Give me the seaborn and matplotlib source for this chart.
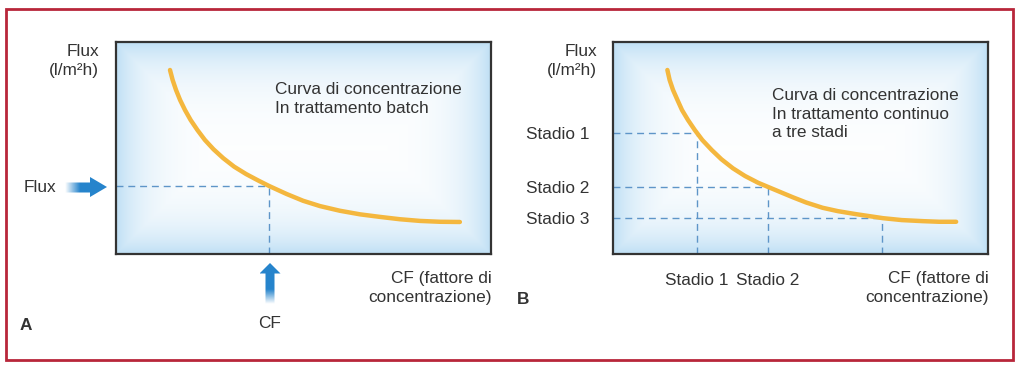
import seaborn as sns
import matplotlib.pyplot as plt
import pandas as pd
import numpy as np
from matplotlib.patches import Polygon, Rectangle

# curve (CF on x, flux on y, both 0-100 axis units)
cf_a = [14.4, 15.1, 16.0, 17.1, 18.4, 19.9, 21.7, 23.7, 26.0, 28.6, 31.5, 34.7, 38.0, 40.8,
        45.5, 49.9, 54.4, 59.7, 65.1, 70.4, 75.7, 81.1, 86.4, 91.7]
flux_a = [86.8, 82.1, 77.4, 72.6, 67.9, 63.2, 58.5, 53.8, 49.4, 45.2, 41.2, 37.7, 34.6, 32.1,
          28.3, 25.1, 22.6, 20.4, 18.7, 17.5, 16.4, 15.6, 15.2, 15.1]
cf_b = [14.5, 15.1, 16.0, 17.2, 18.4, 20.0, 21.8, 23.8, 26.3, 28.9, 32.0, 35.2, 38.7, 41.8,
        47.9, 51.5, 55.9, 60.0, 64.8, 72.0, 77.0, 82.6, 87.0, 91.5]
flux_b = [86.8, 82.1, 77.4, 72.6, 67.9, 63.2, 58.5, 53.8, 49.1, 44.7, 40.4, 36.8, 33.6, 31.3,
          26.8, 24.3, 21.8, 20.2, 18.8, 16.9, 16.0, 15.5, 15.2, 15.2]

# operating point, batch
punto_cf = 40.8
punto_flux = 32.1

# three stages, continuous
stadi = ["Stadio 1", "Stadio 2", "Stadio 3"]
stadi_cf = [22.3, 41.2, 71.7]
stadi_flux = [56.9, 31.8, 16.8]

W, H = 1024, 369
sns.set_theme(style="white")
plt.rcParams['font.family'] = ['Liberation Sans', 'DejaVu Sans']

TXT = "#333333"
CURVA = "#F4B73E"
TRATT = "#5E95C8"
BLU = np.array([38, 132, 204]) / 255
FS = 12.4
DASH = (0, (5, 3.5))

fig = plt.figure(figsize=(W / 100, H / 100), dpi=100)
fig.patch.set_facecolor("white")

# overlay in pixel coordinates for frame and arrows
ov = fig.add_axes([0, 0, 1, 1])
ov.set_xlim(0, W)
ov.set_ylim(H, 0)
ov.axis("off")
ov.add_patch(Rectangle((5.5, 8.5), 1007, 351, fill=False, ec="#B8263A", lw=2))


def ax_at(x0, y0, x1, y1):
    return fig.add_axes([x0 / W, 1 - y1 / H, (x1 - x0) / W, (y1 - y0) / H])


def sfondo(ax):
    nx, ny = 300, 170
    xx, yy = np.meshgrid(np.linspace(0, 1, nx), np.linspace(0, 1, ny))
    d = np.minimum.reduce([xx * 375, (1 - xx) * 375, yy * 212, (1 - yy) * 212])
    t = np.exp(-d / 30.0)
    edge = np.array([192, 224, 245]) / 255
    img = 1 - t[..., None] * (1 - edge)
    ax.imshow(img, extent=[0, 100, 0, 100], aspect="auto", zorder=0, interpolation="bilinear")


def freccia(pts, direzione):
    poly = Polygon(pts, closed=True, fc="none", ec="none")
    ov.add_patch(poly)
    xs = [p[0] for p in pts]
    ys = [p[1] for p in pts]
    n = 100
    a = np.clip(np.linspace(0, 1, n) * 2.8, 0, 1)
    ext = [min(xs), max(xs), max(ys), min(ys)]
    if direzione == "x":
        rgba = np.zeros((1, n, 4))
        rgba[0, :, :3] = BLU
        rgba[0, :, 3] = a
    else:
        rgba = np.zeros((n, 1, 4))
        rgba[:, 0, :3] = BLU
        rgba[:, 0, 3] = a[::-1]
    im = ov.imshow(rgba, extent=ext, aspect="auto", interpolation="bilinear", zorder=3)
    im.set_clip_path(poly)


def cornice(ax):
    ax.set_xlim(0, 100)
    ax.set_ylim(0, 100)
    for s in ax.spines.values():
        s.set_visible(True)
        s.set_color("#333333")
        s.set_linewidth(1.6)
        s.set_zorder(5)


# ---- panel A ----
axA = ax_at(116, 42, 491, 254)
sfondo(axA)
dfA = pd.DataFrame({"CF": cf_a, "Flux": flux_a})
sns.lineplot(data=dfA, x="CF", y="Flux", ax=axA, color=CURVA, lw=3.2, zorder=4)
axA.plot([0, punto_cf], [punto_flux, punto_flux], color=TRATT, lw=1, ls=DASH, zorder=2)
axA.plot([punto_cf, punto_cf], [0, punto_flux], color=TRATT, lw=1, ls=DASH, zorder=2)
cornice(axA)
axA.set_xticks([])
axA.set_yticks([])
axA.set_xlabel("")
axA.set_ylabel("")
axA.text(42.5, 73, "Curva di concentrazione\nIn trattamento batch", fontsize=FS, color=TXT,
         va="center", ha="left", linespacing=1.3)

# ---- panel B ----
axB = ax_at(613, 42, 988, 254)
sfondo(axB)
dfB = pd.DataFrame({"CF": cf_b, "Flux": flux_b})
sns.lineplot(data=dfB, x="CF", y="Flux", ax=axB, color=CURVA, lw=3.2, zorder=4)
for c, f in zip(stadi_cf, stadi_flux):
    axB.plot([0, c], [f, f], color=TRATT, lw=1, ls=DASH, zorder=2)
    axB.plot([c, c], [0, f], color=TRATT, lw=1, ls=DASH, zorder=2)
cornice(axB)
axB.set_xticks(stadi_cf[:2])
axB.set_xticklabels(stadi[:2], fontsize=FS, color=TXT)
axB.set_yticks(stadi_flux)
axB.set_yticklabels(stadi, fontsize=FS, color=TXT)
axB.tick_params(length=0, pad=14)
axB.tick_params(axis="y", pad=17)
axB.set_xlabel("")
axB.set_ylabel("")
axB.text(42.5, 66, "Curva di concentrazione\nIn trattamento continuo\na tre stadi", fontsize=FS,
         color=TXT, va="center", ha="left", linespacing=1.3)


def ftext(x, y, s, **kw):
    kw.setdefault("fontsize", FS)
    kw.setdefault("color", TXT)
    fig.text(x / W, 1 - y / H, s, **kw)


for xr in (99, 597):
    ftext(xr, 61, "Flux\n(l/m²h)", ha="right", va="center", linespacing=1.4)
ftext(492, 288, "CF (fattore di\nconcentrazione)", ha="right", va="center", linespacing=1.3)
ftext(989, 288, "CF (fattore di\nconcentrazione)", ha="right", va="center", linespacing=1.3)
ftext(24, 187, "Flux", ha="left", va="center")
ftext(270, 323, "CF", ha="center", va="center")
ftext(20, 325, "A", ha="left", va="center", fontweight="bold")
ftext(517, 300, "B", ha="left", va="center", fontweight="bold")

# arrows
freccia([(65, 182.5), (90, 182.5), (90, 177), (107, 187), (90, 197), (90, 192.5), (65, 192.5)], "x")
freccia([(265.5, 304), (265.5, 273.5), (259.5, 273.5), (270, 263), (280.5, 273.5), (274.5, 273.5), (274.5, 304)], "y")

fig.savefig("out.png", dpi=100)
